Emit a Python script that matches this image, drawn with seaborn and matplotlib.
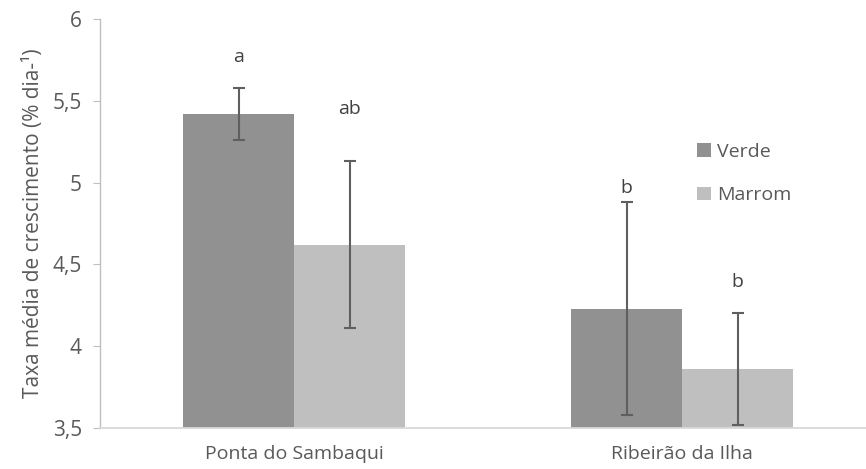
import pandas as pd
import numpy as np
import matplotlib.pyplot as plt
import seaborn as sns

# dados
locais = ['Ponta do Sambaqui', 'Ribeirão da Ilha']
cores = ['Verde', 'Marrom']
verde = [5.42, 4.23]
marrom = [4.62, 3.86]
erro_verde = [0.16, 0.65]
erro_marrom = [0.51, 0.34]
letras_verde = ['a', 'b']
letras_marrom = ['ab', 'b']
y_letras_verde = [5.77, 4.97]
y_letras_marrom = [5.45, 4.39]

df = pd.DataFrame({
    'local': locais * 2,
    'cor': [cores[0]] * 2 + [cores[1]] * 2,
    'taxa': verde + marrom,
    'erro': erro_verde + erro_marrom,
    'letra': letras_verde + letras_marrom,
    'y_letra': y_letras_verde + y_letras_marrom,
})

sns.set_style('white')
plt.rcParams['font.family'] = ['Open Sans', 'DejaVu Sans']
texto = '#595959'

fig = plt.figure(figsize=(8.66, 4.69), dpi=100)
ax = fig.add_axes([100 / 866, 41 / 469, 766 / 866, 409 / 469])

sns.barplot(data=df, x='local', y='taxa', hue='cor', hue_order=cores,
            palette=['#919191', '#bfbfbf'], width=0.572, saturation=1,
            errorbar=None, linewidth=0, ax=ax)

# barras de erro e letras
for cont, (cor, sub) in zip(ax.containers, df.groupby('cor', sort=False)):
    for patch, (_, row) in zip(cont.patches, sub.iterrows()):
        xc = patch.get_x() + patch.get_width() / 2
        ax.errorbar(xc, row['taxa'], yerr=row['erro'], fmt='none',
                    ecolor='#5f5f5f', elinewidth=1.5, capsize=4.5, capthick=1.5)
        ax.text(xc, row['y_letra'], row['letra'], ha='center', va='center',
                fontsize=14, color='#404040')

ax.set_ylim(3.5, 6)
ax.set_xlim(-0.5, 1.474)
ax.set_yticks([3.5, 4, 4.5, 5, 5.5, 6])
ax.set_yticklabels(['3,5', '4', '4,5', '5', '5,5', '6'])
ax.tick_params(axis='y', labelsize=15, labelcolor=texto, left=True,
               length=5, color='#bfbfbf', pad=8)
ax.tick_params(axis='x', labelsize=14, labelcolor=texto, bottom=False, pad=9)
ax.set_xlabel('')
ax.set_ylabel('Taxa média de crescimento (% dia-¹)', fontsize=15,
              color=texto, labelpad=6)

for lado in ['top', 'right']:
    ax.spines[lado].set_visible(False)
ax.spines['left'].set_color('#bfbfbf')
ax.spines['bottom'].set_color('#d9d9d9')
ax.spines['left'].set_linewidth(1)
ax.spines['bottom'].set_linewidth(1.3)

leg = ax.legend(loc='upper left', bbox_to_anchor=(0.757, 0.74), frameon=False,
                fontsize=14, handlelength=0.7, handleheight=0.7,
                handletextpad=0.3, labelspacing=1.3)
for t in leg.get_texts():
    t.set_color(texto)

plt.savefig('out.png', dpi=100)
plt.close()
